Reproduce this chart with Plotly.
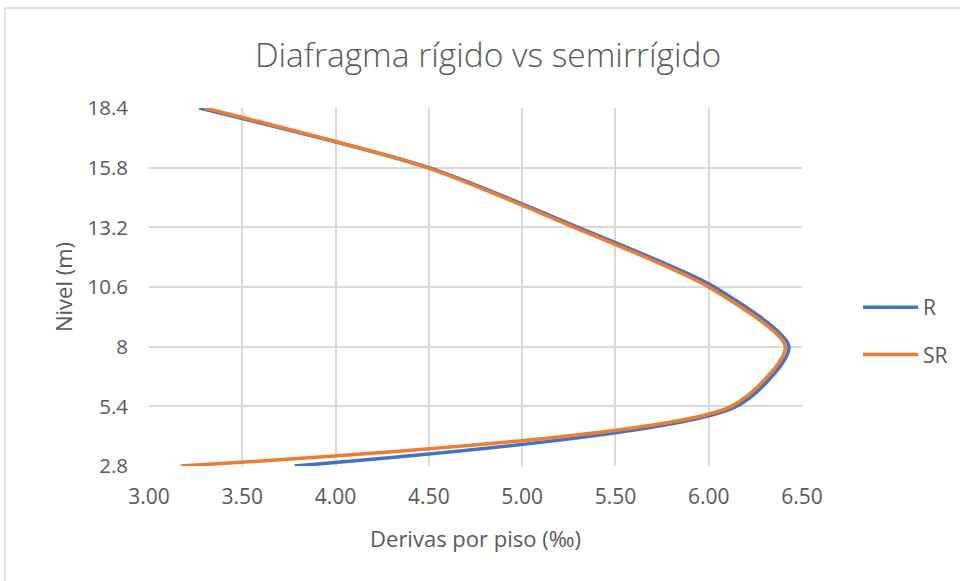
import plotly.graph_objects as go

# Story levels (m) and inter-story drifts (per mille) for each diaphragm model
levels = [2.8, 5.4, 8.0, 10.6, 13.2, 15.8, 18.4]
level_labels = ["2.8", "5.4", "8", "10.6", "13.2", "15.8", "18.4"]
drift_rigid = [3.78, 6.15, 6.43, 6.03, 5.30, 4.50, 3.27]
drift_semirigid = [3.17, 6.12, 6.41, 6.00, 5.28, 4.49, 3.30]
x_ticks = [3.0, 3.5, 4.0, 4.5, 5.0, 5.5, 6.0, 6.5]

W, H = 960, 581
ML, MR, MT, MB = 149, 158, 108, 115
pw, ph = W - ML - MR, H - MT - MB

text_color = "#595959"
grid_color = "#d9d9d9"
font_family = "Open Sans"
smooth = 0.7

fig = go.Figure()
fig.add_trace(go.Scatter(
    x=drift_rigid, y=levels, name="R", mode="lines",
    line=dict(color="#4472C4", width=3.5, shape="spline", smoothing=smooth),
    legendgroup="R",
))
fig.add_trace(go.Scatter(
    x=drift_semirigid, y=levels, name="SR", mode="lines",
    line=dict(color="#ED7D31", width=3.5, shape="spline", smoothing=smooth),
    legendgroup="SR",
))

# light frame around the chart area (left and top edges)
bx = (5 - ML) / pw
by = 1 + (MT - 8) / ph
frame = dict(color=grid_color, width=1.5)
fig.add_shape(type="line", xref="paper", yref="paper",
              x0=bx, x1=bx, y0=-1, y1=by, line=frame)
fig.add_shape(type="line", xref="paper", yref="paper",
              x0=bx, x1=2, y0=by, y1=by, line=frame)

fig.update_layout(
    width=W, height=H,
    margin=dict(l=ML, r=MR, t=MT, b=MB, autoexpand=False),
    paper_bgcolor="white", plot_bgcolor="white",
    font=dict(family=font_family, color=text_color, size=21),
    title=dict(text="Diafragma rígido vs semirrígido",
               x=488 / W, xanchor="center", xref="container",
               y=1 - 55 / H, yanchor="middle", yref="container",
               font=dict(size=33.5, color=text_color, family=font_family,
                         weight=300)),
    showlegend=True,
    legend=dict(x=(858 - ML) / pw, xanchor="left",
                y=1 - (331 - MT) / ph, yanchor="middle",
                tracegroupgap=17, itemwidth=55,
                font=dict(size=21, color=text_color),
                bgcolor="rgba(0,0,0,0)"),
)

fig.update_xaxes(
    range=[3.0, 6.5], tickvals=x_ticks, tickformat=".2f",
    showgrid=True, gridcolor=grid_color, gridwidth=1.5,
    zeroline=False, showline=False, ticks="", automargin=False,
    ticklabelstandoff=16,
    tickfont=dict(size=21, color=text_color),
    title=dict(text="Derivas por piso (‰)", standoff=22,
               font=dict(size=22, color=text_color)),
)
fig.update_yaxes(
    range=[2.8, 18.4], tickvals=levels, ticktext=level_labels,
    showgrid=True, gridcolor=grid_color, gridwidth=1.5,
    zeroline=False, showline=False, ticks="", automargin=False,
    ticklabelstandoff=20,
    tickfont=dict(size=20.5, color=text_color),
    title=dict(text="Nivel (m)", standoff=8,
               font=dict(size=22, color=text_color)),
)

fig.write_html("out.html")
